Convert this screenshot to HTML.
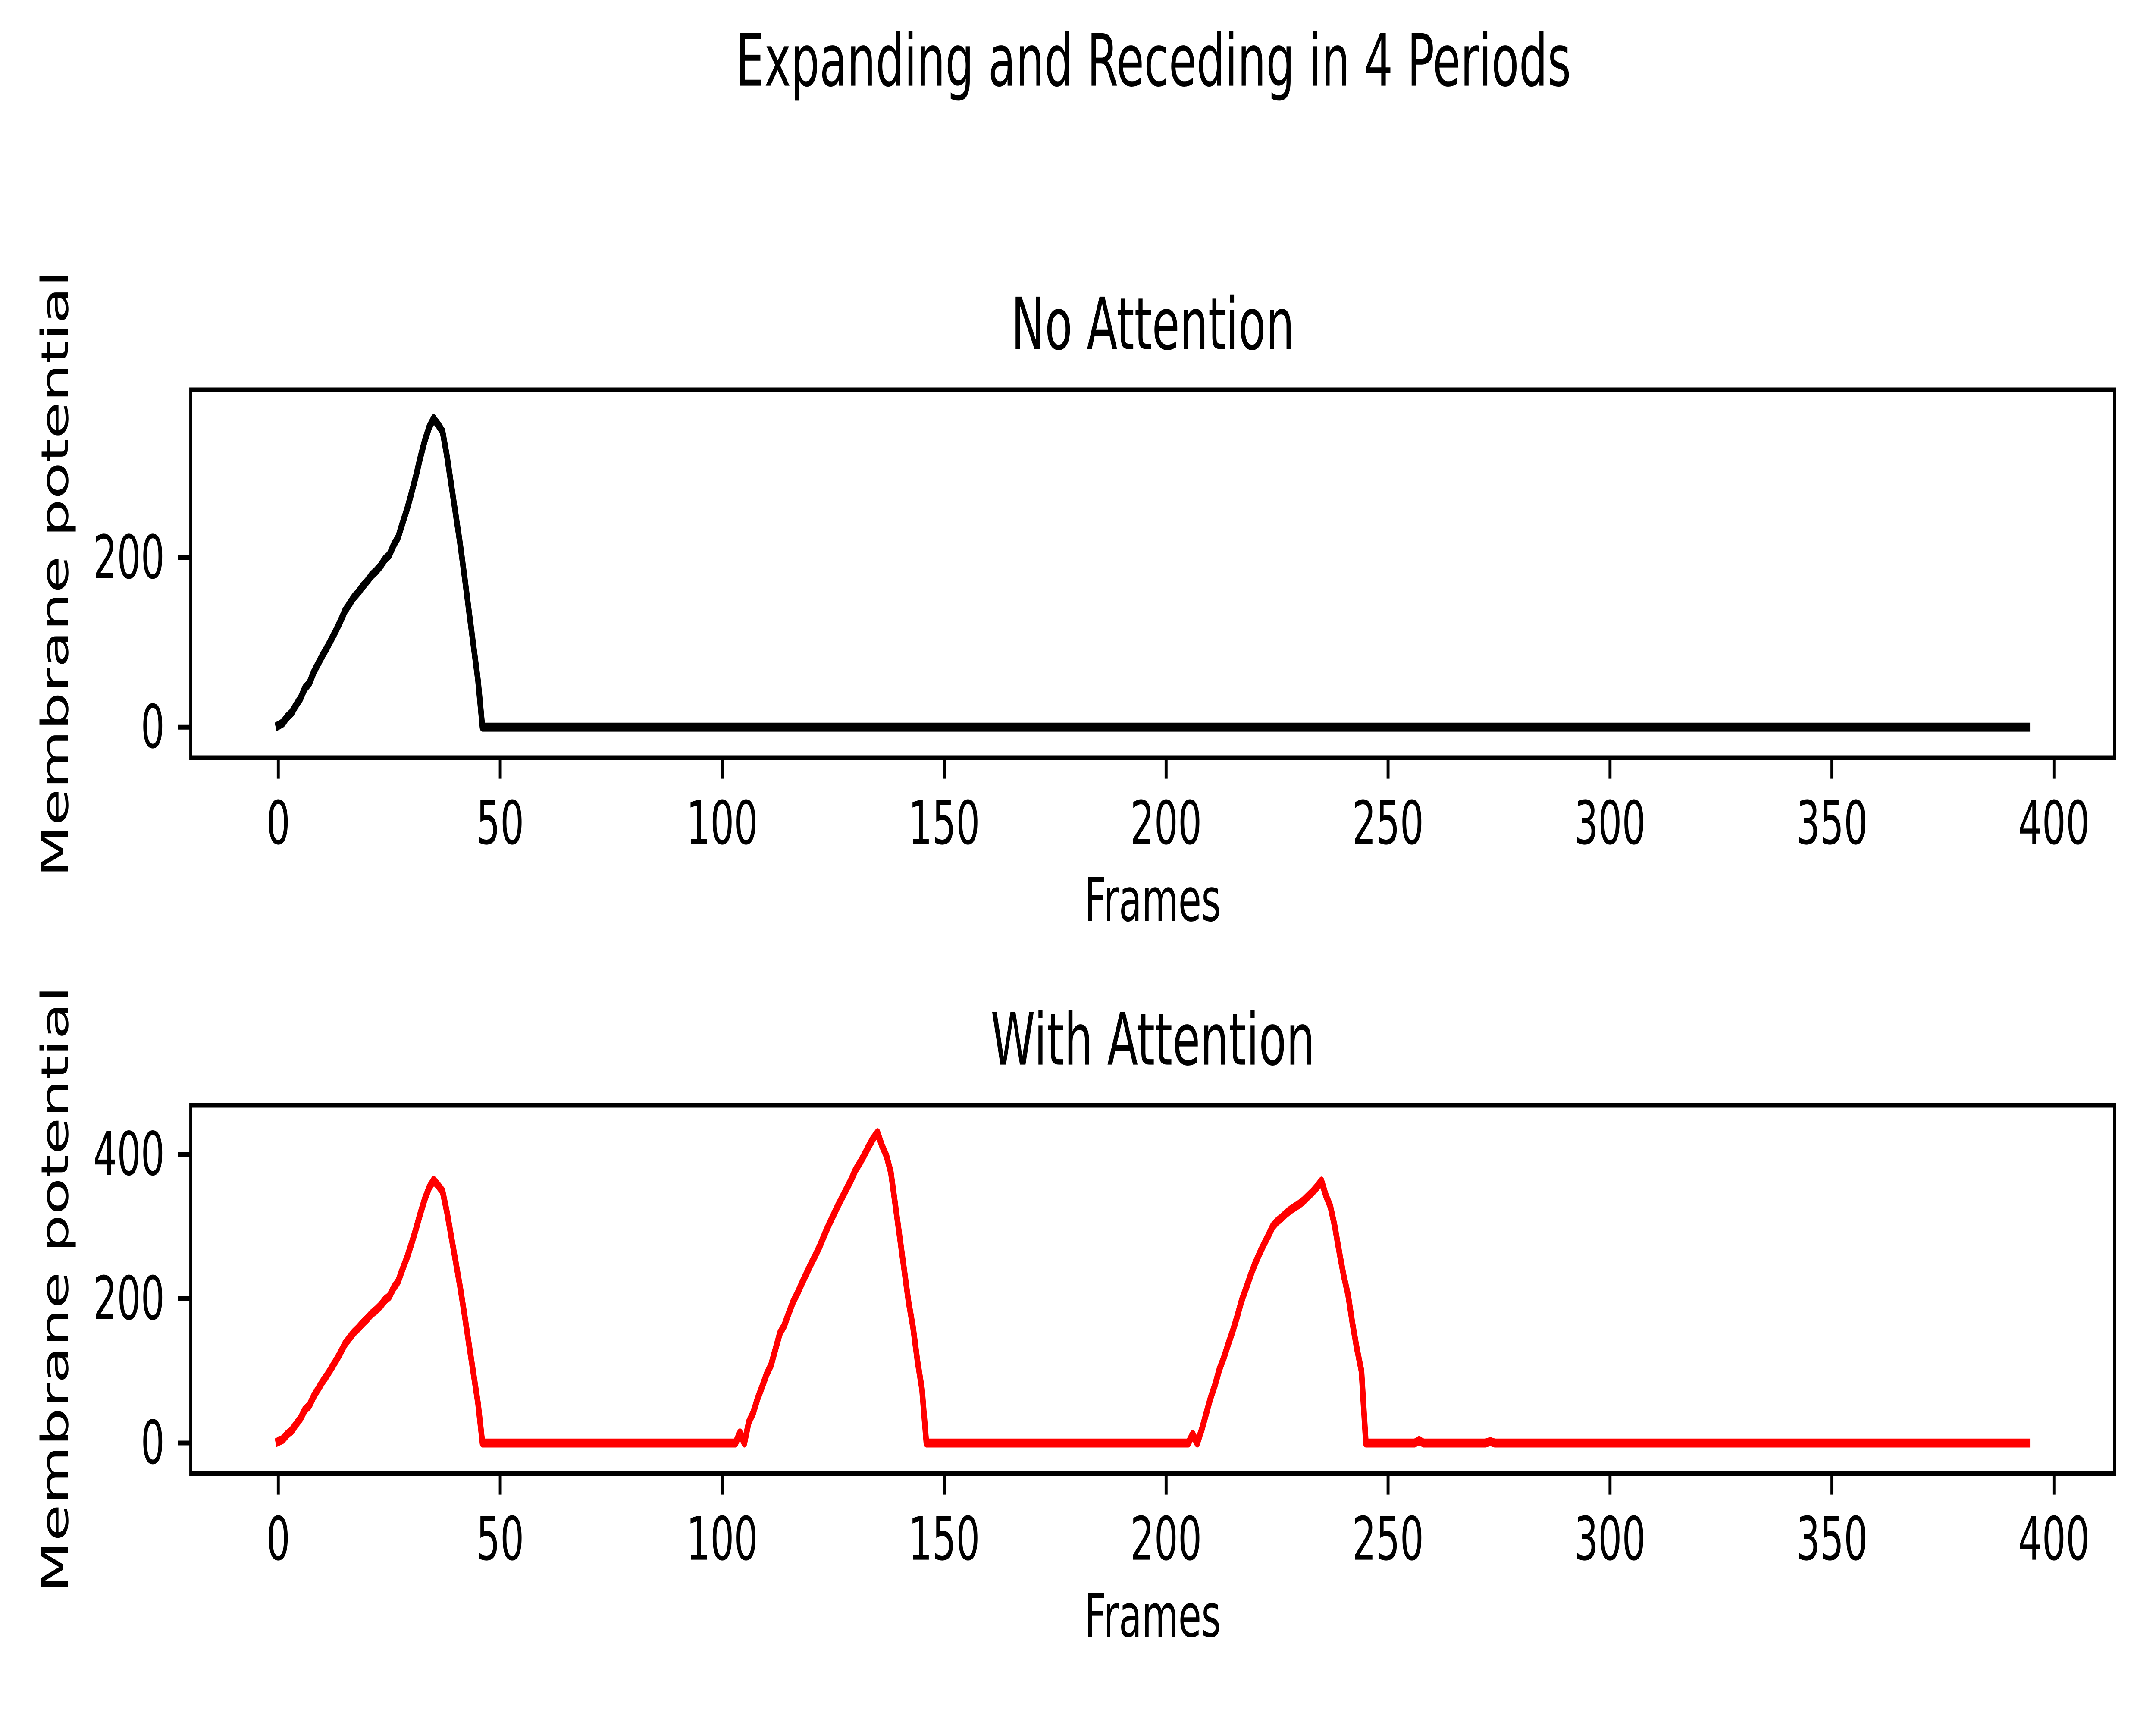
<!DOCTYPE html>
<html><head><meta charset="utf-8"><style>
html,body{margin:0;padding:0;background:#fff;width:100%;height:100%;overflow:hidden;}
svg{display:block;width:100vw;height:100vh;font-family:"DejaVu Sans","Liberation Sans",sans-serif;}
</style></head><body>
<svg id="fig" viewBox="0 0 8000 4000" preserveAspectRatio="none" xmlns="http://www.w3.org/2000/svg">
<rect width="8000" height="4000" fill="#fff"/>
<text x="4280" y="153" font-size="167" text-anchor="middle" dominant-baseline="middle">Expanding and Receding in 4 Periods</text>
</svg>
<script>
const xTicks = [0,50,100,150,200,250,300,350,400];
const topYTicks = [0,200];
const botYTicks = [0,200,400];
const topFrames = [0,1,2,3,4,5,6,7,8,9,10,11,12,13,14,15,16,17,18,19,20,21,22,23,24,25,26,27,28,29,30,31,32,33,34,35,36,37,38,39,40,41,42,43,44,45,46,394];
const topValues = [2,5,12,17,26,34,46,52,65,75,85,94,104,114,125,137,145,153,159,166,172,179,184,190,198,203,215,224,241,257,276,296,318,338,354,364,357,349,320,285,250,215,176,135,95,55,0,0];
const botFrames = [0,1,2,3,4,5,6,7,8,9,10,11,12,13,14,15,16,17,18,19,20,21,22,23,24,25,26,27,28,29,30,31,32,33,34,35,36,37,38,39,40,41,42,43,44,45,46,
 103,104,105,106,107,108,109,110,111,112,113,114,115,116,117,118,119,120,121,122,123,124,125,126,127,128,129,130,131,132,133,134,135,136,137,138,139,140,141,142,143,144,145,146,
 205,206,207,208,209,210,211,212,213,214,215,216,217,218,219,220,221,222,223,224,225,226,227,228,229,230,231,232,233,234,235,236,237,238,239,240,241,242,243,244,245,
 256,257,258,272,273,274,394];
const botValues = [2,5,12,17,26,34,46,52,65,75,85,94,104,114,125,137,145,153,159,166,172,179,184,190,198,203,215,224,241,257,276,296,318,338,354,364,357,349,320,285,250,215,176,135,95,55,0,
 0,14,0,29,42,62,78,95,108,130,152,163,180,196,208,222,235,248,260,273,288,302,315,328,340,352,364,378,388,399,411,422,430,412,398,375,330,285,240,195,160,113,75,0,
 0,12,0,18,40,62,80,102,118,137,155,175,197,214,232,248,262,275,287,300,307,312,318,323,327,331,336,342,348,355,363,343,328,300,265,232,205,165,130,100,0,
 0,3,0,0,2,0,0];

const NS = "http://www.w3.org/2000/svg";
const svg = document.getElementById('fig');
function mk(tag, attrs, parent){
  const e = document.createElementNS(NS, tag);
  for (const k in attrs) e.setAttribute(k, attrs[k]);
  (parent||svg).appendChild(e);
  return e;
}
const L = 708, R = 7847, xmin = -19.7, xmax = 413.7;
const xs = v => L + (v - xmin) / (xmax - xmin) * (R - L);

function panel(key, top, bottom, ymin, ymax, yTicks, frames, values, color, title){
  const ys = v => bottom - (v - ymin) / (ymax - ymin) * (bottom - top);
  const g = mk('g', {});
  
  
  let d = '';
  frames.forEach((f, i) => { d += (i ? 'L' : 'M') + xs(f).toFixed(1) + ' ' + ys(values[i]).toFixed(1); });
  const line = mk('path', {d: d, fill: 'none', stroke: color, 'stroke-width': 20.8, 'stroke-linejoin': 'round', 'stroke-linecap': 'square'}, g);
  
  
  const frame = mk('rect', {x: L, y: top, width: R - L, height: bottom - top, fill: 'none', stroke: '#000', 'stroke-width': 11}, g);
  
  
  xTicks.forEach(t => {
    const x = xs(t);
    const tk = mk('line', {x1: x, x2: x, y1: bottom, y2: bottom + 48.6, stroke: '#000', 'stroke-width': 11}, g);
    
    
    const tl = mk('text', {x: x, y: bottom + 97, 'font-size': 139, 'text-anchor': 'middle', 'dominant-baseline': 'hanging'}, g);
    
    
    tl.textContent = t;
  });
  yTicks.forEach(t => {
    const y = ys(t);
    const tk = mk('line', {x1: L - 48.6, x2: L, y1: y, y2: y, stroke: '#000', 'stroke-width': 11}, g);
    
    
    const tl = mk('text', {x: L - 97, y: y, 'font-size': 139, 'text-anchor': 'end', 'dominant-baseline': 'central'}, g);
    
    
    tl.textContent = t;
  });
  const tt = mk('text', {x: (L + R) / 2, y: top - 140, 'font-size': 167, 'text-anchor': 'middle', 'dominant-baseline': 'middle'}, g);
  
  
  tt.textContent = title;
  const xl = mk('text', {x: (L + R) / 2, y: bottom + 340, 'font-size': 139, 'text-anchor': 'middle', 'dominant-baseline': 'middle'}, g);
  
  
  xl.textContent = 'Frames';
  const cy = (top + bottom) / 2;
  const yl = mk('text', {x: 214, y: cy, 'font-size': 139, 'text-anchor': 'middle', 'dominant-baseline': 'middle', transform: 'rotate(-90 214 ' + cy + ')'}, g);
  
  
  yl.textContent = 'Membrane potential';
}
panel('no-attention', 904, 1757, -36, 398, topYTicks, topFrames, topValues, '#000', 'No Attention');
panel('with-attention', 2563, 3417, -42.4, 468, botYTicks, botFrames, botValues, '#ff0000', 'With Attention');
</script>
</body></html>
